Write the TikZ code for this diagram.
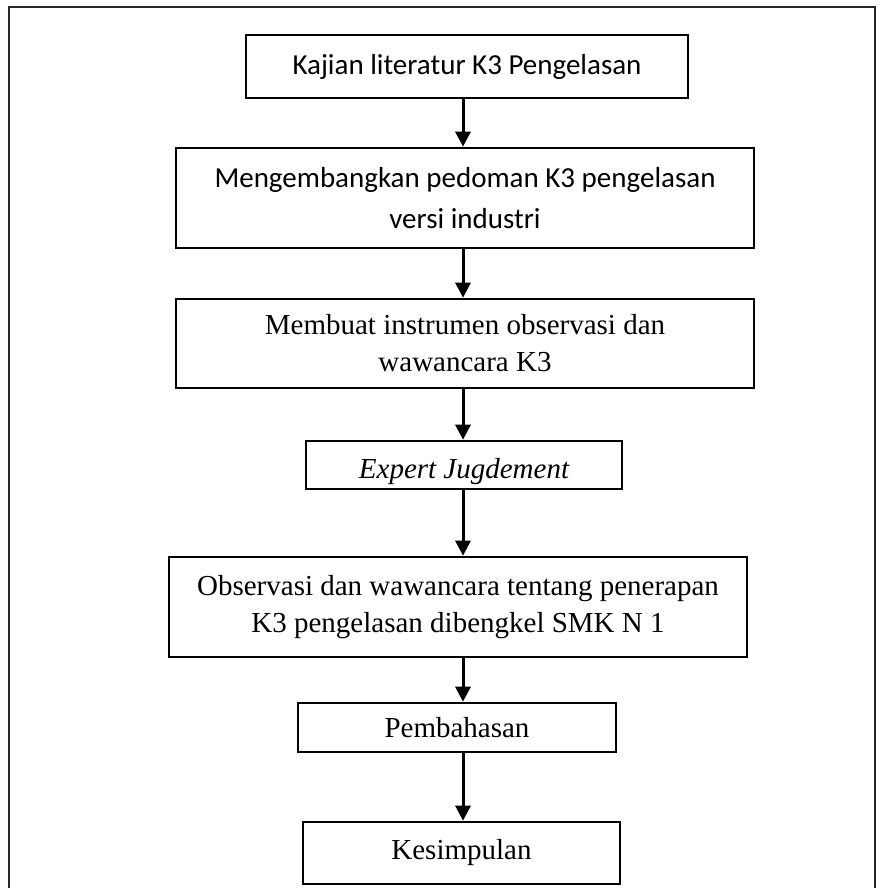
\documentclass[tikz,border=0pt]{standalone}
\usepackage{fontspec}
\setmainfont{Liberation Serif}
\newfontfamily\calibri{Carlito}
\usetikzlibrary{arrows.meta}

\begin{document}
\begin{tikzpicture}[x=1pt,y=-1pt,
    box/.style={draw,line width=2.6pt,rectangle,align=center,inner sep=0pt,
      font=\fontsize{29}{37}\selectfont},
    sansbox/.style={box,font=\calibri\fontsize{29}{41}\selectfont},
    arr/.style={line width=3pt,-{Triangle[width=15pt,length=15pt]}}]
  \useasboundingbox (0,0) rectangle (880,888);

  % outer frame
  \draw [line width=2pt,black!85] (9,888) -- (9,7) -- (875,7) -- (875,888);

  % steps
  \node [sansbox,minimum width=442pt,minimum height=63pt,name=s1] at (467,66.5) {Kajian literatur K3 Pengelasan};
  \node [sansbox,minimum width=578pt,minimum height=100pt,name=s2] at (465,198) {Mengembangkan pedoman K3 pengelasan\\versi industri};
  \node [box,minimum width=578pt,minimum height=89pt,name=s3] at (465,343.5) {Membuat instrumen observasi dan\\wawancara K3};
  \node [box,minimum width=316pt,minimum height=48pt,text height=32pt,text depth=6pt,name=s4] at (464,465) {\itshape Expert Jugdement};
  \node [box,minimum width=578pt,minimum height=100pt,name=s5] at (458,607) {Observasi dan wawancara tentang penerapan\\K3 pengelasan dibengkel SMK N 1};
  \node [box,minimum width=318pt,minimum height=49pt,name=s6] at (457,727.5) {Pembahasan};
  \node [box,minimum width=317pt,minimum height=62pt,name=s7] at (461.5,853) {Kesimpulan};

  % arrows
  \coordinate (ax) at (463,0);
  \draw [arr] (s1.south -| ax) -- (s2.north -| ax);
  \draw [arr] (s2.south -| ax) -- (s3.north -| ax);
  \draw [arr] (s3.south -| ax) -- (s4.north -| ax);
  \draw [arr] (s4.south -| ax) -- (s5.north -| ax);
  \draw [arr] (s5.south -| ax) -- (s6.north -| ax);
  \draw [arr] (s6.south -| ax) -- (s7.north -| ax);
\end{tikzpicture}
\end{document}
